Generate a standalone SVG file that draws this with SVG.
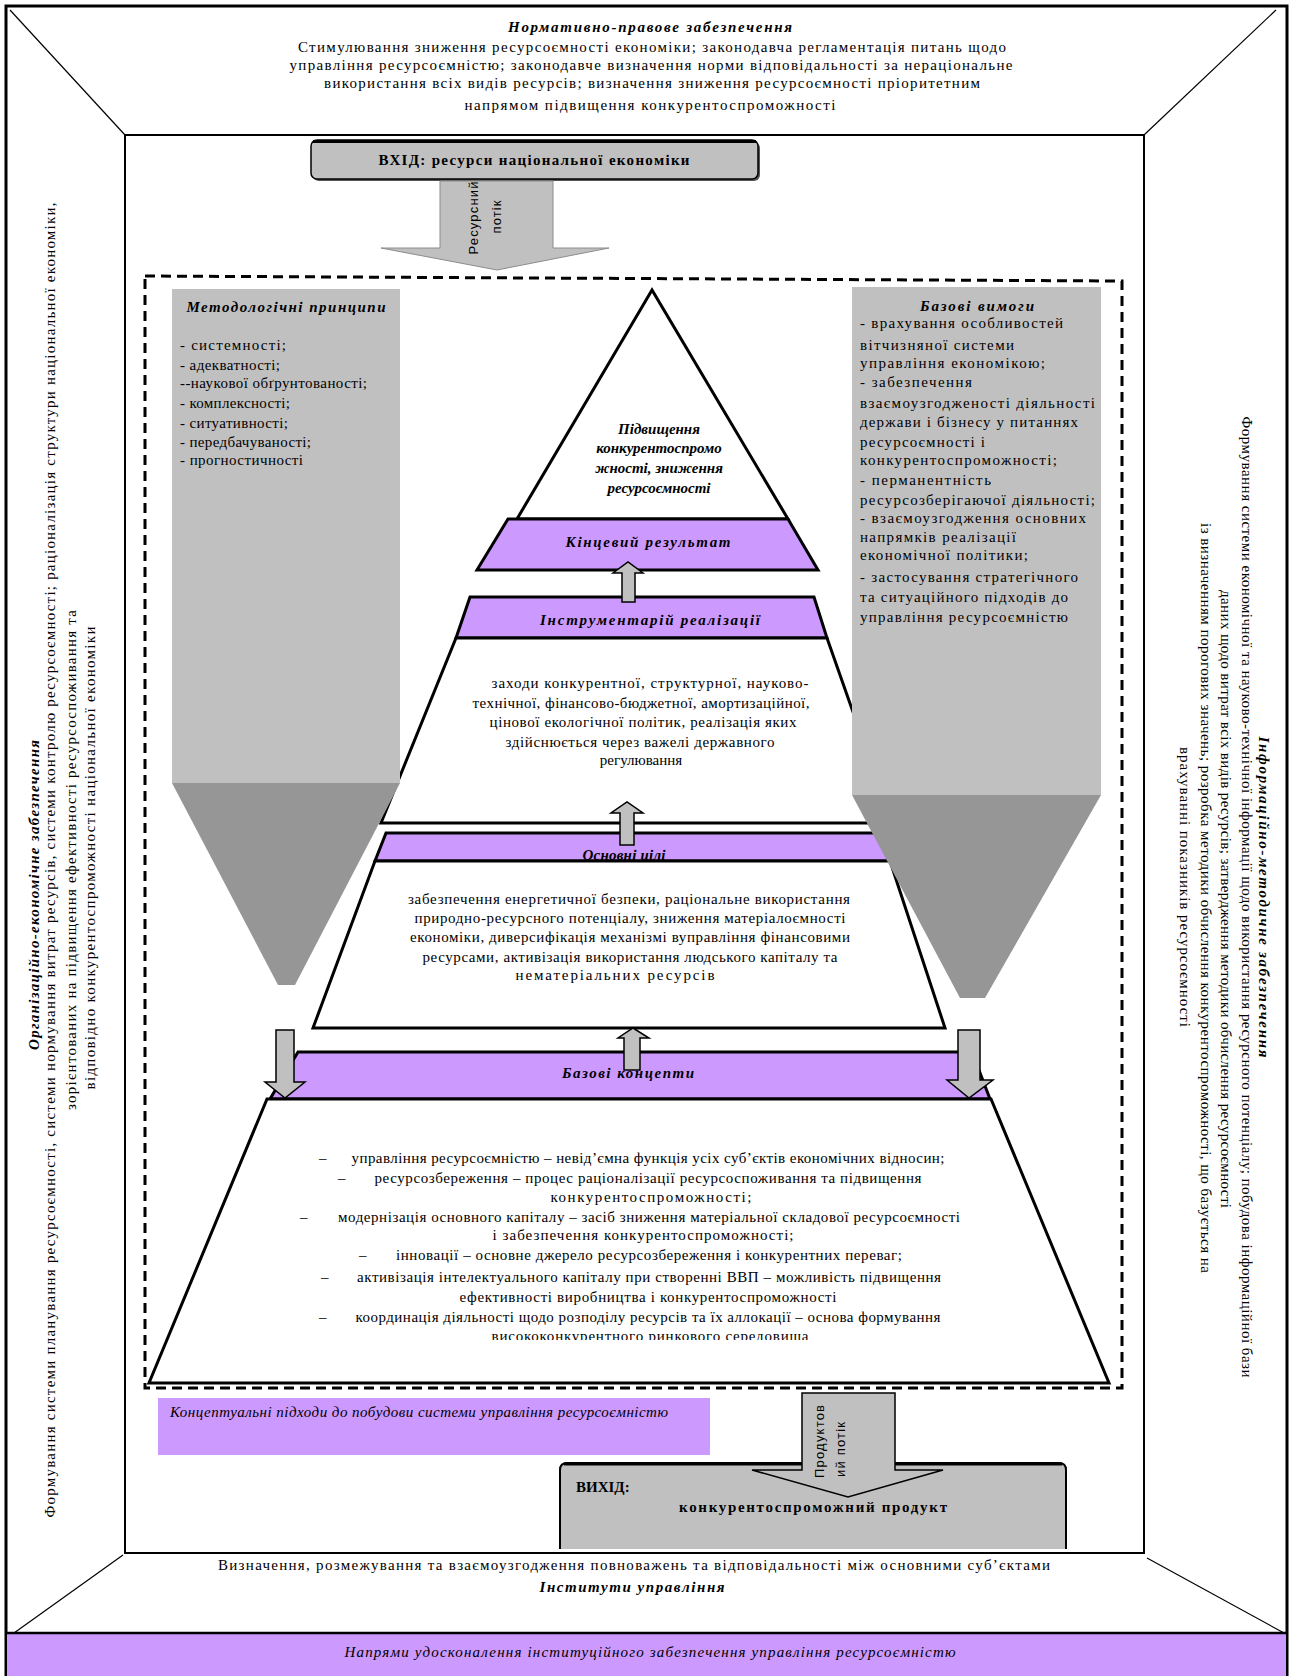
<svg xmlns="http://www.w3.org/2000/svg" width="1291" height="1676" viewBox="0 0 1291 1676">
<style>
.t{font-family:"Liberation Serif","Times New Roman",serif;font-size:15px;fill:#000}
.s{font-family:"Liberation Sans",Arial,sans-serif;font-size:13px;fill:#000}
.b{font-weight:bold}
.i{font-style:italic}
.bi{font-weight:bold;font-style:italic}
.m{text-anchor:middle}
.band{fill:#cc99ff;stroke:#000;stroke-width:3;stroke-linejoin:miter}
.trap{fill:#fff;stroke:#000;stroke-width:3;stroke-linejoin:miter}
.arr{fill:#c0c0c0;stroke:#000;stroke-width:1.5}
.thin{stroke:#000;stroke-width:1.2;fill:none}
.light{fill:#c0c0c0}
.dark{fill:#969696}
</style>
<defs>
<clipPath id="clipB"><rect x="140" y="1100" width="980" height="240"/></clipPath>
</defs>
<rect x="0" y="0" width="1291" height="1676" fill="#fff"/>

<g id="frame">
<rect x="6" y="6" width="1281" height="1680" fill="none" stroke="#000" stroke-width="3"/>
<rect x="125" y="135" width="1019" height="1418" fill="none" stroke="#000" stroke-width="2"/>
<line class="thin" x1="10" y1="10" x2="125" y2="135"/>
<line class="thin" x1="1276" y1="10" x2="1144" y2="135"/>
<line class="thin" x1="123" y1="1555" x2="14" y2="1633"/>
<line class="thin" x1="1147" y1="1558" x2="1284" y2="1633"/>
</g>

<g id="normative">
<text class="t bi m" x="650" y="32" textLength="284">Нормативно-правове забезпечення</text>
<text class="t m" x="652" y="52" font-size="16" textLength="708">Стимулювання зниження ресурсоємності економіки; законодавча регламентація питань щодо</text>
<text class="t m" x="651" y="70" font-size="16" textLength="723">управління ресурсоємністю; законодавче визначення норми відповідальності за нераціональне</text>
<text class="t m" x="652" y="88" font-size="16" textLength="656">використання всіх видів ресурсів; визначення зниження ресурсоємності пріоритетним</text>
<text class="t m" x="650" y="110" font-size="16" textLength="371">напрямом підвищення конкурентоспроможності</text>
</g>

<g id="org-econ">
<text class="t bi m" font-size="16" transform="translate(38.5,895) rotate(-90)" textLength="310">Організаційно-економічне забезпечення</text>
<text class="t m" font-size="16" transform="translate(55,860) rotate(-90)" textLength="1315">Формування системи планування ресурсоємності, системи нормування витрат ресурсів, системи контролю ресурсоємності; раціоналізація структури національної економіки,</text>
<text class="t m" font-size="16" transform="translate(76,860) rotate(-90)" textLength="500">зорієнтованих на підвищення ефективності ресурсоспоживання та</text>
<text class="t m" font-size="16" transform="translate(95,858) rotate(-90)" textLength="463">відповідно конкурентоспроможності національної економіки</text>
</g>

<g id="info-method">
<text class="t bi m" font-size="16" transform="translate(1258.5,897) rotate(90)" textLength="321">Інформаційно-методичне забезпечення</text>
<text class="t m" transform="translate(1241.5,897) rotate(90)" textLength="961">Формування системи економічної та науково-технічної інформації щодо використання ресурсного потенціалу; побудова інформаційної бази</text>
<text class="t m" transform="translate(1220.5,899) rotate(90)" textLength="618">даних щодо витрат всіх видів ресурсів; затвердження методики обчислення ресурсоємності</text>
<text class="t m" transform="translate(1200.5,898) rotate(90)" textLength="750">із визначенням порогових значень; розробка методики обчислення конкурентоспроможності, що базується на</text>
<text class="t m" transform="translate(1179.5,887) rotate(90)" textLength="280">врахуванні показників ресурсоємності</text>
</g>

<g id="institutes">
<text class="t m" font-size="16" x="634" y="1570" textLength="832">Визначення, розмежування та взаємоузгодження повноважень та відповідальності між основними суб’єктами</text>
<text class="t bi m" font-size="16" x="632" y="1592" textLength="185">Інститути управління</text>
</g>

<g id="directions">
<rect x="7" y="1633" width="1279" height="45" fill="#cc99ff"/>
<line x1="7" y1="1633" x2="1287" y2="1633" stroke="#000" stroke-width="2.5"/>
<text class="t i m" font-size="16" x="650" y="1657" textLength="611">Напрями удосконалення інституційного забезпечення управління ресурсоємністю</text>
</g>

<g id="input">
<rect x="313" y="142" width="447" height="39" rx="6" fill="#555"/>
<rect x="311" y="140" width="447" height="39" rx="6" fill="#c0c0c0" stroke="#000" stroke-width="1.5"/>
<path d="M313,141.5 L756,141.5" stroke="#000" stroke-width="3"/>
<text class="t b m" font-size="16" x="534" y="165" textLength="311">ВХІД: ресурси національної економіки</text>
</g>

<g id="dashed-boundary">
<path d="M145,276 L1122,281 L1122,1388 L145,1388 Z" fill="none" stroke="#000" stroke-width="3" stroke-dasharray="10 6"/>
</g>

<g id="pyramid-top">
<polygon class="trap" points="652,290 517,519 788,519"/>
<text class="t bi m" font-size="16" x="659" y="434">Підвищення</text>
<text class="t bi m" font-size="16" x="659" y="453">конкурентоспромо</text>
<text class="t bi m" font-size="16" x="659" y="473">жності, зниження</text>
<text class="t bi m" font-size="16" x="659" y="493">ресурсоємності</text>
</g>

<g id="final-result">
<polygon class="band" points="508,519 788,519 818,570 477,570"/>
<text class="t bi m" font-size="16" x="648" y="547" textLength="165">Кінцевий результат</text>
</g>

<g id="tools">
<polygon class="band" points="470,597 814,597 827,638 456,638"/>
<text class="t bi m" font-size="16" x="650" y="625" textLength="220">Інструментарій реалізації</text>
</g>

<g id="tools-content">
<polygon class="trap" points="456,638 827,638 892,823 381,823"/>
<text class="t m" x="650" y="688" textLength="317">заходи конкурентної, структурної, науково-</text>
<text class="t m" x="641" y="708" textLength="337">технічної, фінансово-бюджетної, амортизаційної,</text>
<text class="t m" x="643" y="727" textLength="307">цінової екологічної політик, реалізація яких</text>
<text class="t m" x="640" y="747" textLength="269">здійснюється через важелі державного</text>
<text class="t m" x="641" y="765">регулювання</text>
</g>

<g id="main-goals">
<polygon class="band" points="386,833 880,833 893,861 375,861"/>
<text class="t bi m" font-size="16" x="624" y="860" textLength="83">Основні цілі</text>
</g>

<g id="goals-content">
<polygon class="trap" points="375,861 890,861 945,1028 313,1028"/>
<text class="t m" x="629" y="904" textLength="442">забезпечення енергетичної безпеки, раціональне використання</text>
<text class="t m" x="630" y="923" textLength="431">природно-ресурсного потенціалу, зниження матеріалоємності</text>
<text class="t m" x="630" y="942" textLength="440">економіки, диверсифікація механізмі вуправління фінансовими</text>
<text class="t m" x="630" y="962" textLength="415">ресурсами, активізація використання людського капіталу та</text>
<text class="t m" x="615" y="980" textLength="199">нематеріальних ресурсів</text>
</g>

<g id="base-concepts">
<polygon class="band" points="298,1052 972,1052 990,1099 270,1099"/>
<text class="t bi m" font-size="16" x="628" y="1078" textLength="132">Базові концепти</text>
</g>

<g id="concepts-content">
<polygon class="trap" points="267,1099 991,1099 1109,1383 149,1383"/>
<g clip-path="url(#clipB)">
<text class="t" x="319" y="1163">–</text>
<text class="t m" x="648" y="1163" textLength="593">управління ресурсоємністю – невід’ємна функція усіх суб’єктів економічних відносин;</text>
<text class="t" x="338" y="1183">–</text>
<text class="t m" x="648" y="1183" textLength="547">ресурсозбереження – процес раціоналізації ресурсоспоживання та підвищення</text>
<text class="t m" x="651" y="1202" textLength="201">конкурентоспроможності;</text>
<text class="t" x="300" y="1222">–</text>
<text class="t m" x="649" y="1222" textLength="622">модернізація основного капіталу – засіб зниження матеріальної складової ресурсоємності</text>
<text class="t m" x="643" y="1240" textLength="301">і забезпечення конкурентоспроможності;</text>
<text class="t" x="359" y="1260">–</text>
<text class="t m" x="649" y="1260" textLength="506">інновації – основне джерело ресурсозбереження і конкурентних переваг;</text>
<text class="t" x="321" y="1282">–</text>
<text class="t m" x="649" y="1282" textLength="584">активізація інтелектуального капіталу при створенні ВВП – можливість підвищення</text>
<text class="t m" x="648" y="1302" textLength="377">ефективності виробництва і конкурентоспроможності</text>
<text class="t" x="319" y="1322">–</text>
<text class="t m" x="648" y="1322" textLength="585">координація діяльності щодо розподілу ресурсів та їх аллокації – основа формування</text>
<text class="t m" x="650" y="1341" textLength="317">висококонкурентного ринкового середовища</text>
</g>
</g>

<g id="method-principles">
<rect class="light" x="172" y="289" width="228" height="494"/>
<polygon class="dark" points="172,783 400,783 295,985 278,985"/>
<text class="t bi m" font-size="16" x="286" y="312" textLength="199">Методологічні принципи</text>
<text class="t" x="180" y="350" textLength="106">- системності;</text>
<text class="t" x="180" y="370" textLength="100">- адекватності;</text>
<text class="t" x="180" y="388" textLength="187">--наукової обґрунтованості;</text>
<text class="t" x="180" y="408" textLength="110">- комплексності;</text>
<text class="t" x="180" y="428" textLength="108">- ситуативності;</text>
<text class="t" x="180" y="447" textLength="131">- передбачуваності;</text>
<text class="t" x="180" y="465" textLength="123">- прогностичності</text>
</g>

<g id="base-requirements">
<rect class="light" x="852" y="287" width="249" height="508"/>
<polygon class="dark" points="852,795 1101,795 985,998 960,998"/>
<text class="t bi m" font-size="16" x="977" y="311" textLength="114">Базові вимоги</text>
<text class="t" font-size="16" x="860" y="328" textLength="203">- врахування особливостей</text>
<text class="t" font-size="16" x="860" y="350" textLength="154">вітчизняної системи</text>
<text class="t" font-size="16" x="860" y="368" textLength="185">управління економікою;</text>
<text class="t" font-size="16" x="860" y="387" textLength="112">- забезпечення</text>
<text class="t" font-size="16" x="860" y="408" textLength="235">взаємоузгодженості діяльності</text>
<text class="t" font-size="16" x="860" y="427" textLength="218">держави і бізнесу у питаннях</text>
<text class="t" font-size="16" x="860" y="447" textLength="125">ресурсоємності і</text>
<text class="t" font-size="16" x="860" y="465" textLength="197">конкурентоспроможності;</text>
<text class="t" font-size="16" x="860" y="485" textLength="131">- перманентність</text>
<text class="t" font-size="16" x="860" y="505" textLength="235">ресурсозберігаючої діяльності;</text>
<text class="t" font-size="16" x="860" y="523" textLength="226">- взаємоузгодження основних</text>
<text class="t" font-size="16" x="860" y="542" textLength="156">напрямків реалізації</text>
<text class="t" font-size="16" x="860" y="560" textLength="168">економічної політики;</text>
<text class="t" font-size="16" x="860" y="582" textLength="218">- застосування стратегічного</text>
<text class="t" font-size="16" x="860" y="602" textLength="208">та ситуаційного підходів до</text>
<text class="t" font-size="16" x="860" y="622" textLength="208">управління ресурсоємністю</text>
</g>

<g id="conceptual-approaches">
<rect x="158" y="1398" width="552" height="57" fill="#cc99ff"/>
<text class="t i" x="170" y="1417" textLength="498">Концептуальні підходи до побудови системи управління ресурсоємністю</text>
</g>

<g id="output">
<path d="M560,1549 L560,1470 Q560,1463 567,1463 L1059,1463 Q1066,1463 1066,1470 L1066,1549" fill="#c0c0c0" stroke="#000" stroke-width="2"/>
<line x1="564" y1="1464" x2="1062" y2="1464" stroke="#000" stroke-width="3"/>
<text class="t b" font-size="16" x="576" y="1492">ВИХІД:</text>
<text class="t b m" font-size="16" x="813" y="1512" textLength="268">конкурентоспроможний продукт</text>
</g>

<g id="connectors">
<polygon points="440,181 553,181 553,248 609,248 497,270 381,248 440,248" fill="#c0c0c0" stroke="#8c8c8c" stroke-width="1"/>
<text class="s m" transform="translate(478,218) rotate(-90)" textLength="73">Ресурсний</text>
<text class="s m" transform="translate(501,217) rotate(-90)" textLength="33">потік</text>

<polygon class="arr" points="802,1393 895,1393 895,1470 943,1470 848,1497 752,1470 802,1470"/>
<text class="s" transform="translate(824,1478) rotate(-90)" textLength="73">Продуктов</text>
<text class="s" transform="translate(845,1477) rotate(-90)" textLength="55">ий потік</text>

<polygon class="arr" points="622,602 635,602 635,573 643,573 628,562 613,573 622,573"/>
<polygon class="arr" points="620,845 634,845 634,813 643,813 627,802 611,813 620,813"/>
<polygon class="arr" points="624,1070 640,1070 640,1038 649,1038 633,1028 618,1038 624,1038"/>
<polygon class="arr" points="276,1030 294,1030 294,1082 305,1082 285,1098 265,1082 276,1082"/>
<polygon class="arr" points="958,1030 980,1030 980,1080 993,1080 969,1098 947,1080 958,1080"/>
</g>
</svg>
